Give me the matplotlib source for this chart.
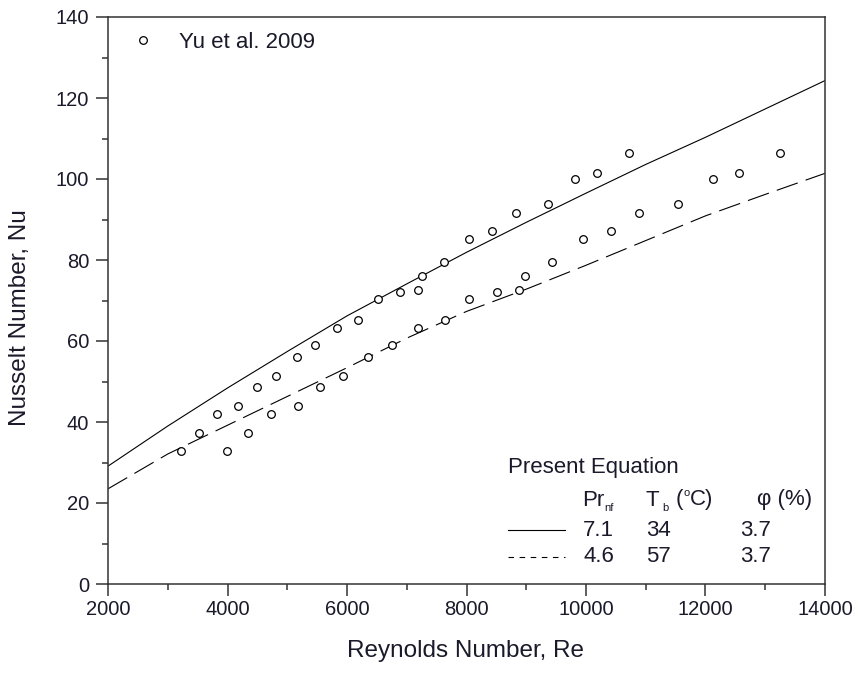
import matplotlib
matplotlib.use('Agg')
import matplotlib.pyplot as plt
from matplotlib.lines import Line2D
from matplotlib.ticker import MultipleLocator

plt.rcParams['font.family'] = ['Liberation Sans', 'DejaVu Sans']

# Yu et al. 2009 experimental points (two Re sets sharing the same Nu values)
re_low = [3222, 3528, 3819, 4181, 4489, 4812, 5158, 5464, 5828, 6189, 6524,
          6887, 7193, 7250, 7628, 8041, 8432, 8828, 9369, 9816, 10189, 10725]
re_high = [3997, 4348, 4728, 5175, 5548, 5938, 6356, 6758, 7193, 7640, 8041,
           8505, 8883, 8973, 9431, 9945, 10419, 10892, 11540, 12130, 12566, 13247]
nu_exp = [32.9, 37.4, 41.9, 44.0, 48.6, 51.4, 56.0, 59.0, 63.3, 65.2, 70.4,
          72.0, 72.6, 76.0, 79.4, 85.2, 87.2, 91.5, 93.8, 99.9, 101.4, 106.3]

# present equation curves
re_eq = [2000, 3000, 4000, 5000, 6000, 7000, 8000, 9000, 10000, 11000, 12000, 13000, 14000]
nu_pr71 = [29.1, 39.0, 48.4, 57.4, 66.2, 74.1, 81.9, 89.3, 96.5, 103.6, 110.3, 117.3, 124.3]
nu_pr46 = [23.5, 32.1, 39.2, 46.3, 53.4, 60.7, 67.3, 72.8, 78.7, 84.8, 90.9, 96.2, 101.4]

W, H = 858, 673
fig = plt.figure(figsize=(W / 100, H / 100), dpi=100)
ax = fig.add_axes([108 / W, 1 - 584 / H, 717 / W, 567 / H])


def px(x, y):
    return x / W, 1 - y / H


ax.plot(re_eq, nu_pr71, color='black', lw=0.8)
ax.plot(re_eq, nu_pr46, color='black', lw=0.8, dashes=(20, 7.5))

pts = ax.plot(re_low + re_high, nu_exp + nu_exp, linestyle='none', marker='o',
              ms=5.5, mfc='white', mec='black', mew=0.9, label='Yu et al. 2009')[0]

ax.set_xlim(2000, 14000)
ax.set_ylim(0, 140)
ax.xaxis.set_major_locator(MultipleLocator(2000))
ax.xaxis.set_minor_locator(MultipleLocator(1000))
ax.yaxis.set_major_locator(MultipleLocator(20))
ax.yaxis.set_minor_locator(MultipleLocator(10))
ax.tick_params(which='both', direction='out', color='#333333', width=1.1,
               labelsize=14.5, labelcolor='#1a1a2a')
ax.tick_params(which='major', length=8.6, pad=3)
ax.tick_params(which='minor', length=4.6)
ax.tick_params(axis='y', which='major', pad=5)
for s in ax.spines.values():
    s.set_color('#333333')
    s.set_linewidth(1.1)

ax.set_xlabel('Reynolds Number, Re', fontsize=17.5, color='#1a1a2a')
ax.set_ylabel('Nusselt Number, Nu', fontsize=17.5, color='#1a1a2a')
ax.xaxis.set_label_coords(0.498, -0.098)
ax.yaxis.set_label_coords(-0.107, 0.469)

ax.legend(handles=[pts], loc='upper left', bbox_to_anchor=(0.026, 0.974),
          frameon=False, fontsize=16, borderpad=0, borderaxespad=0,
          handlelength=1.5, handletextpad=0.84, labelcolor='#1a1a2a')

# legend table for the present equation
tc = '#1a1a2a'
fs = 16
fig.text(*px(508, 467), 'Present Equation', fontsize=fs, color=tc, va='center')
fig.text(*px(582, 500), 'Pr', fontsize=fs, color=tc, va='center')
fig.text(*px(604, 508), 'nf', fontsize=8, color=tc, va='center')
fig.text(*px(645, 500), 'T', fontsize=fs, color=tc, va='center')
fig.text(*px(662, 508), 'b', fontsize=8, color=tc, va='center')
fig.text(*px(676, 500), '(', fontsize=fs, color=tc, va='center')
fig.text(*px(684, 493), 'o', fontsize=8, color=tc, va='center')
fig.text(*px(690, 500), 'C)', fontsize=fs, color=tc, va='center')
fig.text(*px(757, 500), 'φ (%)', fontsize=fs, color=tc, va='center')

rows = [('7.1', '34', '3.7', 530), ('4.6', '57', '3.7', 556)]
for pr, tb, phi, y in rows:
    fig.text(*px(583, y), pr, fontsize=fs, color=tc, va='center')
    fig.text(*px(646, y), tb, fontsize=fs, color=tc, va='center')
    fig.text(*px(740, y), phi, fontsize=fs, color=tc, va='center')

x0, y0 = px(508, 530)
x1, _ = px(565, 530)
fig.add_artist(Line2D([x0, x1], [y0, y0], color='black', lw=0.8))
x0, y1 = px(508, 557)
fig.add_artist(Line2D([x0, x1], [y1, y1], color='black', lw=0.8, dashes=(5, 5)))

fig.savefig('out.png', dpi=100)
